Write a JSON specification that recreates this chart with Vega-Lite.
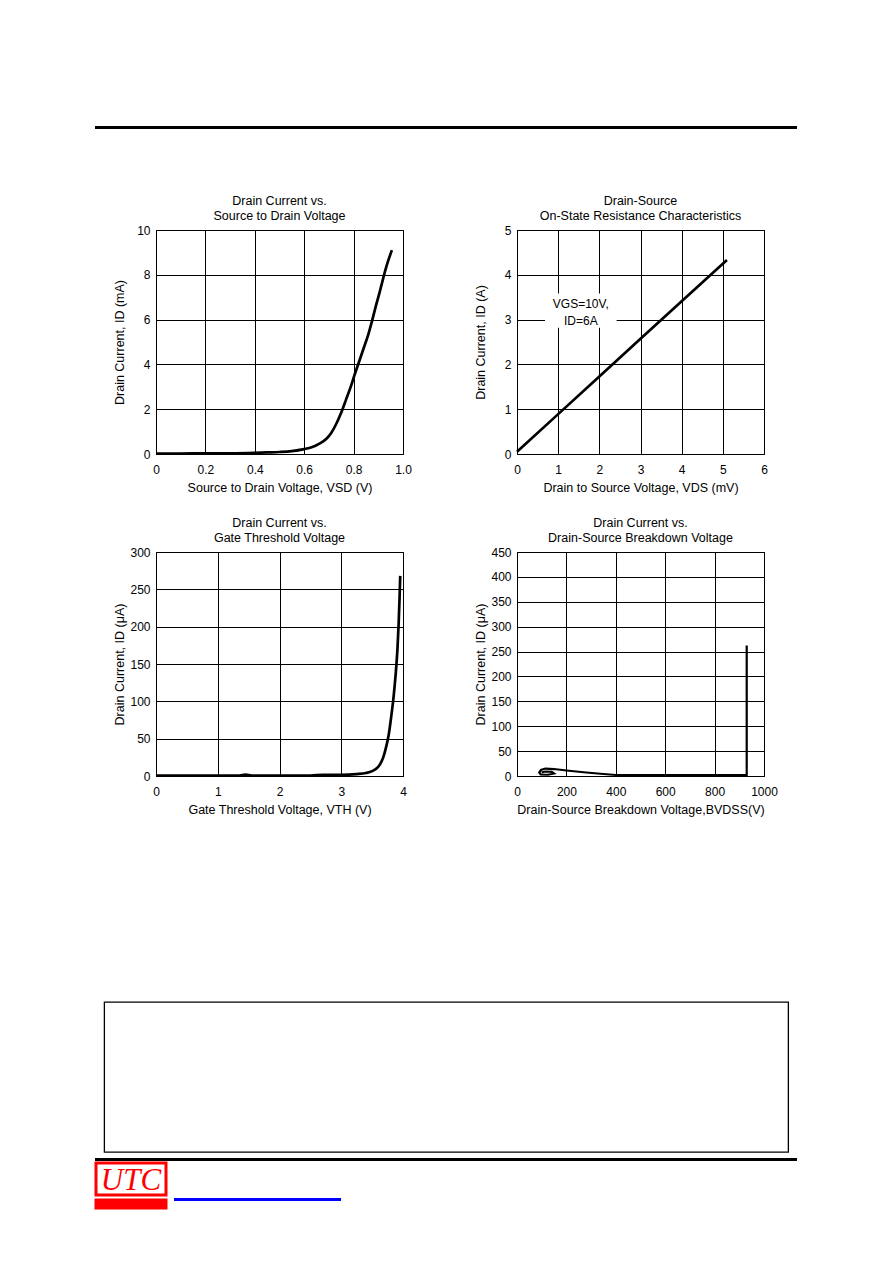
{
  "$schema": "https://vega.github.io/schema/vega-lite/v6.json",
  "background": "white",
  "padding": {"left": 94, "top": 126, "right": 5, "bottom": 5},
  "spacing": 65,
  "vconcat": [
    {
      "width": 700, "height": 1,
      "data": {"values": [{}]},
      "mark": {"type": "text", "text": "", "fontSize": 0},
      "view": {"stroke": "black", "strokeWidth": 2}
    },
    {
      "spacing": 15,
      "hconcat": [
        {
          "width": 1, "height": 1,
          "data": {"values": [{}]},
          "mark": {"type": "text", "text": "", "fontSize": 0},
          "view": {"stroke": null, "fill": "white"}
        },
        {
          "columns": 2,
          "bounds": "flush",
          "spacing": {"row": 98, "column": 114},
          "concat": [
            {
              "width": 247, "height": 224,
              "title": {"text": ["Drain Current vs.", "Source to Drain Voltage"]},
              "data": {"values": [
                {"vsd": 0, "id": 0.02}, {"vsd": 0.1, "id": 0.02}, {"vsd": 0.2, "id": 0.03}, {"vsd": 0.3, "id": 0.03},
                {"vsd": 0.4, "id": 0.05}, {"vsd": 0.45, "id": 0.07}, {"vsd": 0.5, "id": 0.09}, {"vsd": 0.55, "id": 0.13},
                {"vsd": 0.6, "id": 0.22}, {"vsd": 0.63, "id": 0.3}, {"vsd": 0.66, "id": 0.45}, {"vsd": 0.69, "id": 0.68},
                {"vsd": 0.71, "id": 0.95}, {"vsd": 0.73, "id": 1.35}, {"vsd": 0.75, "id": 1.85}, {"vsd": 0.77, "id": 2.45},
                {"vsd": 0.79, "id": 3.05}, {"vsd": 0.8, "id": 3.4}, {"vsd": 0.82, "id": 4.05}, {"vsd": 0.84, "id": 4.7},
                {"vsd": 0.86, "id": 5.35}, {"vsd": 0.875, "id": 5.95}, {"vsd": 0.89, "id": 6.6}, {"vsd": 0.905, "id": 7.2},
                {"vsd": 0.92, "id": 7.85}, {"vsd": 0.935, "id": 8.45}, {"vsd": 0.955, "id": 9.1}
              ]},
              "mark": {"type": "line", "color": "black", "strokeWidth": 2.7, "interpolate": "monotone"},
              "encoding": {
                "x": {"field": "vsd", "type": "quantitative", "scale": {"domain": [0, 1], "nice": false},
                  "axis": {"values": [0, 0.2, 0.4, 0.6, 0.8, 1], "labelExpr": "datum.value == 0 ? '0' : format(datum.value, '.1f')", "title": "Source to Drain Voltage, VSD (V)"}},
                "y": {"field": "id", "type": "quantitative", "scale": {"domain": [0, 10], "nice": false},
                  "axis": {"values": [0, 2, 4, 6, 8, 10], "title": "Drain Current, ID (mA)"}}
              }
            },
            {
              "width": 247, "height": 224,
              "title": {"text": ["Drain-Source", "On-State Resistance Characteristics"]},
              "layer": [
                {
                  "data": {"values": [{}]},
                  "mark": {"type": "rect", "fill": "white"},
                  "encoding": {
                    "x": {"datum": 0.68}, "x2": {"datum": 2.42},
                    "y": {"datum": 3.58}, "y2": {"datum": 2.82}
                  }
                },
                {
                  "data": {"values": [{}]},
                  "mark": {"type": "text", "text": ["VGS=10V,", "ID=6A"], "align": "center", "baseline": "alphabetic", "lineHeight": 17, "fontSize": 12, "color": "black"},
                  "encoding": {"x": {"datum": 1.55}, "y": {"datum": 3.25}}
                },
                {
                  "data": {"values": [
                    {"vds": 0, "id": 0.05}, {"vds": 1, "id": 0.89}, {"vds": 2, "id": 1.73},
                    {"vds": 3, "id": 2.57}, {"vds": 4, "id": 3.41}, {"vds": 5.1, "id": 4.33}
                  ]},
                  "mark": {"type": "line", "color": "black", "strokeWidth": 2.7},
                  "encoding": {
                    "x": {"field": "vds", "type": "quantitative"},
                    "y": {"field": "id", "type": "quantitative"}
                  }
                }
              ],
              "encoding": {
                "x": {"type": "quantitative", "scale": {"domain": [0, 6], "nice": false},
                  "axis": {"values": [0, 1, 2, 3, 4, 5, 6], "title": "Drain to Source Voltage, VDS (mV)"}},
                "y": {"type": "quantitative", "scale": {"domain": [0, 5], "nice": false},
                  "axis": {"values": [0, 1, 2, 3, 4, 5], "title": "Drain Current, ID (A)"}}
              }
            },
            {
              "width": 247, "height": 224,
              "title": {"text": ["Drain Current vs.", "Gate Threshold Voltage"]},
              "data": {"values": [
                {"vth": 0, "id": 0.5}, {"vth": 0.5, "id": 0.5}, {"vth": 1, "id": 0.5}, {"vth": 1.35, "id": 0.7},
                {"vth": 1.45, "id": 1.8}, {"vth": 1.55, "id": 0.7}, {"vth": 2, "id": 0.5}, {"vth": 2.5, "id": 0.6},
                {"vth": 2.7, "id": 1.5}, {"vth": 3, "id": 1.5}, {"vth": 3.25, "id": 2.5}, {"vth": 3.4, "id": 4},
                {"vth": 3.5, "id": 6.5}, {"vth": 3.57, "id": 10}, {"vth": 3.63, "id": 16}, {"vth": 3.68, "id": 25},
                {"vth": 3.73, "id": 40}, {"vth": 3.77, "id": 56}, {"vth": 3.81, "id": 80}, {"vth": 3.85, "id": 108},
                {"vth": 3.88, "id": 135}, {"vth": 3.91, "id": 170}, {"vth": 3.93, "id": 205}, {"vth": 3.945, "id": 240},
                {"vth": 3.955, "id": 268}
              ]},
              "mark": {"type": "line", "color": "black", "strokeWidth": 2.7, "interpolate": "monotone"},
              "encoding": {
                "x": {"field": "vth", "type": "quantitative", "scale": {"domain": [0, 4], "nice": false},
                  "axis": {"values": [0, 1, 2, 3, 4], "title": "Gate Threshold Voltage, VTH (V)"}},
                "y": {"field": "id", "type": "quantitative", "scale": {"domain": [0, 300], "nice": false},
                  "axis": {"values": [0, 50, 100, 150, 200, 250, 300], "title": "Drain Current, ID (μA)"}}
              }
            },
            {
              "width": 247, "height": 224,
              "title": {"text": ["Drain Current vs.", "Drain-Source Breakdown Voltage"]},
              "data": {"values": [
                {"k": 1, "bv": 930, "id": 262}, {"k": 2, "bv": 930, "id": 2}, {"k": 3, "bv": 400, "id": 2},
                {"k": 4, "bv": 350, "id": 4}, {"k": 5, "bv": 280, "id": 7}, {"k": 6, "bv": 200, "id": 11},
                {"k": 7, "bv": 150, "id": 14}, {"k": 8, "bv": 115, "id": 15}, {"k": 9, "bv": 97, "id": 12},
                {"k": 10, "bv": 90, "id": 7}, {"k": 11, "bv": 96, "id": 3}, {"k": 12, "bv": 125, "id": 2.5},
                {"k": 13, "bv": 150, "id": 5}, {"k": 14, "bv": 140, "id": 8.5}, {"k": 15, "bv": 115, "id": 9},
                {"k": 16, "bv": 100, "id": 7}
              ]},
              "mark": {"type": "line", "color": "black", "strokeWidth": 2.2},
              "encoding": {
                "x": {"field": "bv", "type": "quantitative", "scale": {"domain": [0, 1000], "nice": false},
                  "axis": {"values": [0, 200, 400, 600, 800, 1000], "format": "d", "title": "Drain-Source Breakdown Voltage,BVDSS(V)"}},
                "y": {"field": "id", "type": "quantitative", "scale": {"domain": [0, 450], "nice": false},
                  "axis": {"values": [0, 50, 100, 150, 200, 250, 300, 350, 400, 450], "title": "Drain Current, ID (μA)"}},
                "order": {"field": "k", "type": "quantitative"}
              }
            }
          ]
        }
      ]
    },
    {
      "spacing": 5,
      "center": true,
      "vconcat": [
        {
          "width": 700, "height": 115,
          "data": {"values": [{}]},
          "mark": {"type": "text", "text": "", "fontSize": 0},
          "view": {"stroke": null, "fill": "white"}
        },
        {
          "width": 684, "height": 150,
          "data": {"values": [{}]},
          "mark": {"type": "text", "text": "", "fontSize": 0},
          "view": {"stroke": "black", "strokeWidth": 1.3}
        },
        {
          "spacing": 0,
          "vconcat": [
            {
              "width": 700, "height": 1,
              "data": {"values": [{}]},
              "mark": {"type": "text", "text": "", "fontSize": 0},
              "view": {"stroke": "black", "strokeWidth": 2}
            },
            {
              "spacing": 6,
              "hconcat": [
                {
                  "spacing": 0,
                  "vconcat": [
                    {
                      "width": 70, "height": 32,
                      "data": {"values": [{"label": "UTC"}]},
                      "mark": {"type": "text", "font": "Liberation Serif", "fontStyle": "italic", "fontSize": 31, "color": "#ff0000", "baseline": "middle", "dy": 2},
                      "encoding": {"text": {"field": "label"}},
                      "view": {"stroke": "#ff0000", "strokeWidth": 3, "fill": "white"}
                    },
                    {
                      "width": 70, "height": 8,
                      "data": {"values": [{}]},
                      "mark": {"type": "text", "text": "", "fontSize": 0},
                      "view": {"stroke": "#ff0000", "strokeWidth": 3, "fill": "#ff0000"}
                    }
                  ]
                },
                {
                  "spacing": 0,
                  "vconcat": [
                    {
                      "width": 165, "height": 35,
                      "data": {"values": [{}]},
                      "mark": {"type": "text", "text": "", "fontSize": 0},
                      "view": {"stroke": null, "fill": "white"}
                    },
                    {
                      "width": 165, "height": 1,
                      "data": {"values": [{}]},
                      "mark": {"type": "text", "text": "", "fontSize": 0},
                      "view": {"stroke": "#0000ff", "strokeWidth": 2}
                    }
                  ]
                }
              ]
            }
          ]
        }
      ]
    }
  ],
  "config": {
    "font": "Liberation Sans",
    "view": {"stroke": "black", "strokeWidth": 1},
    "title": {"fontSize": 12.5, "fontWeight": "normal", "color": "black", "lineHeight": 15, "offset": 2, "baseline": "bottom", "font": "Liberation Sans"},
    "axis": {
      "grid": true, "gridColor": "black", "gridOpacity": 1, "gridWidth": 1,
      "domain": false, "ticks": false, "tickSize": 0,
      "labelFont": "Liberation Sans", "labelFontSize": 12, "labelColor": "black",
      "titleFont": "Liberation Sans", "titleFontSize": 12.5, "titleFontWeight": "normal", "titleColor": "black",
      "labelFlush": false, "labelOverlap": false
    },
    "axisX": {"labelPadding": 19, "labelBaseline": "alphabetic", "titleBaseline": "alphabetic", "titleY": 37},
    "axisY": {"labelPadding": 6, "titleBaseline": "alphabetic", "titleX": -33},
    "text": {"font": "Liberation Sans", "fontSize": 12, "color": "black"}
  }
}
